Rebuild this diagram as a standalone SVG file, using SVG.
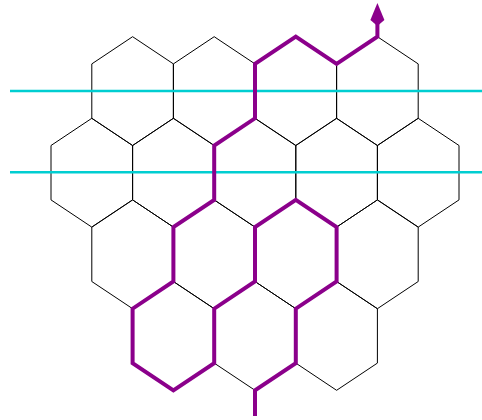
<svg xmlns="http://www.w3.org/2000/svg" xmlns:xlink="http://www.w3.org/1999/xlink" width="482" height="420" viewBox="0 0 482 420">
  <style>
    .hex { fill: none; stroke: #000000; stroke-width: 1; }
    .guide { stroke: #00CED1; stroke-width: 2.4; fill: none; }
    .route { fill: none; stroke: #8B008B; stroke-width: 4; stroke-linejoin: miter; }
  </style>
  <defs>
    <polygon id="hexshape" points="0,-54.4 40.8,-27.2 40.8,27.2 0,54.4 -40.8,27.2 -40.8,-27.2"/>
    <marker id="arrow" markerUnits="userSpaceOnUse" orient="auto" refX="0" refY="0" markerWidth="30" markerHeight="20" viewBox="-4 -10 30 20" overflow="visible">
      <path d="M21,0 L4,-7 L-2,0 L4,7 Z" fill="#8B008B"/>
    </marker>
  </defs>
  <rect width="482" height="420" fill="#ffffff"/>
  <g id="hexes">
    <g id="hex-r0-c0"><use xlink:href="#hexshape" href="#hexshape" class="hex" x="132.6" y="91.1"/></g>
    <g id="hex-r0-c1"><use xlink:href="#hexshape" href="#hexshape" class="hex" x="214.2" y="91.1"/></g>
    <g id="hex-r0-c2"><use xlink:href="#hexshape" href="#hexshape" class="hex" x="295.8" y="91.1"/></g>
    <g id="hex-r0-c3"><use xlink:href="#hexshape" href="#hexshape" class="hex" x="377.4" y="91.1"/></g>
    <g id="hex-r1-c0"><use xlink:href="#hexshape" href="#hexshape" class="hex" x="91.8" y="172.7"/></g>
    <g id="hex-r1-c1"><use xlink:href="#hexshape" href="#hexshape" class="hex" x="173.4" y="172.7"/></g>
    <g id="hex-r1-c2"><use xlink:href="#hexshape" href="#hexshape" class="hex" x="255" y="172.7"/></g>
    <g id="hex-r1-c3"><use xlink:href="#hexshape" href="#hexshape" class="hex" x="336.6" y="172.7"/></g>
    <g id="hex-r1-c4"><use xlink:href="#hexshape" href="#hexshape" class="hex" x="418.2" y="172.7"/></g>
    <g id="hex-r2-c0"><use xlink:href="#hexshape" href="#hexshape" class="hex" x="132.6" y="254.3"/></g>
    <g id="hex-r2-c1"><use xlink:href="#hexshape" href="#hexshape" class="hex" x="214.2" y="254.3"/></g>
    <g id="hex-r2-c2"><use xlink:href="#hexshape" href="#hexshape" class="hex" x="295.8" y="254.3"/></g>
    <g id="hex-r2-c3"><use xlink:href="#hexshape" href="#hexshape" class="hex" x="377.4" y="254.3"/></g>
    <g id="hex-r3-c0"><use xlink:href="#hexshape" href="#hexshape" class="hex" x="173.4" y="335.9"/></g>
    <g id="hex-r3-c1"><use xlink:href="#hexshape" href="#hexshape" class="hex" x="255" y="335.9"/></g>
    <g id="hex-r3-c2"><use xlink:href="#hexshape" href="#hexshape" class="hex" x="336.6" y="335.9"/></g>
  </g>
  <g id="guides">
    <line class="guide" x1="10" y1="91" x2="482" y2="91"/>
    <line class="guide" x1="10" y1="172.3" x2="482" y2="172.3"/>
  </g>
  <g id="connectors">
    <path class="route" marker-end="url(#arrow)" d="M255,416 L255,390.3 L295.8,363.1 L295.8,308.7 L336.6,281.5 L336.6,227.1 L295.8,199.9 L255,227.1 L255,281.5 L214.2,308.7 L214.2,363.1 L173.4,390.3 L132.6,363.1 L132.6,308.7 L173.4,281.5 L173.4,227.1 L214.2,199.9 L214.2,145.5 L255,118.3 L255,63.9 L295.8,36.7 L336.6,63.9 L377.4,36.7 L377.4,24"/>
  </g>
</svg>
